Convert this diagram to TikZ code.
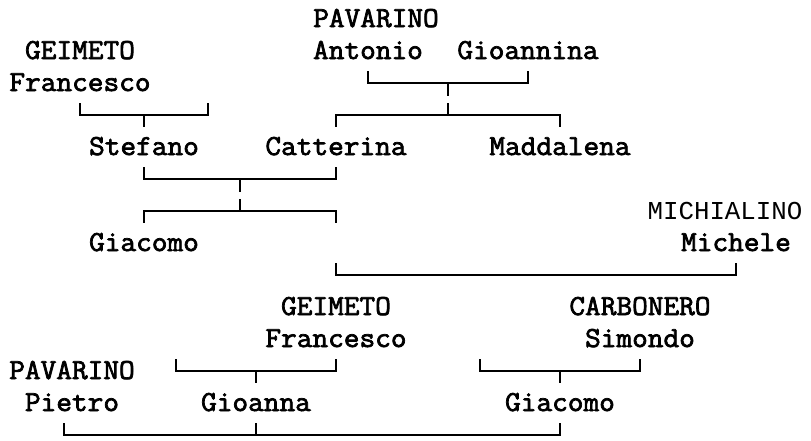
\documentclass[tikz,border=0pt]{standalone}
\usepackage{fontspec}
\usepackage{tikz}
\usetikzlibrary{calc}
\usetikzlibrary{positioning}

\newfontfamily\treefont[FakeStretch=1.05,FakeBold=2.5]{Latin Modern Mono}
\newfontfamily\sidefont{Liberation Mono}

\begin{document}
\begin{tikzpicture}[x=1pt, y=-1pt,
    person/.style={inner sep=0pt, minimum height=40pt, text height=16pt,
      text depth=0pt, font=\treefont\fontsize{29}{29}\selectfont},
    side/.style={inner sep=0pt, font=\sidefont\fontsize{25.8}{25.8}\selectfont},
    line/.style={line width=1.6pt}]

  \useasboundingbox (0,0) rectangle (811,440);

%%%%%%%%%%%% top rows
  \node[person] (pavarino1) at (376, 19) {PAVARINO};
  \node[person] (antonio) at (368, 51) {Antonio};
  \node[person] (gioannina) at (528, 51) {Gioannina};
  \node[person] (geimeto1) at (80, 51) {GEIMETO};
  \node[person] (francesco1) at (80, 83) {Francesco};

  \node[person] (stefano) at (144, 147) {Stefano};
  \node[person] (catterina) at (336, 147) {Catterina};
  \node[person] (maddalena) at (560, 147) {Maddalena};

  \node[side] (michialino) at (725, 211) {MICHIALINO};
  \node[person] (giacomo1) at (144, 243) {Giacomo};
  \node[person] (michele) at (736, 243) {Michele};

  \coordinate (free1) at (208, 103);
  \coordinate (free2) at (336, 223);
  \coordinate (free3) at (336, 263);

  % Francesco -> Stefano
  \draw[line] (francesco1.south) -- ++(0,12) -| (free1);
  \draw[line] (stefano.north) -- ++(0,-12);

  % Antonio + Gioannina -> Catterina, Maddalena
  \draw[line] (antonio.south) -- ++(0,12) -| (gioannina.south);
  \draw[line] ($(antonio.south)!.5!(gioannina.south)$) ++(0,12) -- ++(0,13);
  \draw[line] (catterina.north) -- ++(0,-12) -| (maddalena.north);
  \draw[line] ($(catterina.north)!.5!(maddalena.north)$) ++(0,-12) -- ++(0,-12);

  % Stefano + Catterina -> Giacomo
  \draw[line] (stefano.south) -- ++(0,12) -| (catterina.south);
  \draw[line] ($(stefano.south)!.5!(catterina.south)$) ++(0,12) -- ++(0,13);
  \draw[line] (giacomo1.north) -- ++(0,-12) -| (free2);
  \draw[line] ($(giacomo1.north)!.5!(free2)$) ++(0,-12) -- ++(0,-12);

  % Michele
  \draw[line] (free3) -- ++(0,12) -| (michele.south);

%%%%%%%%%%%% bottom rows
  \node[person] (geimeto2) at (336, 307) {GEIMETO};
  \node[person] (francesco2) at (336, 339) {Francesco};
  \node[person] (carbonero) at (640, 307) {CARBONERO};
  \node[person] (simondo) at (640, 339) {Simondo};

  \node[person] (pavarino2) at (72, 371) {PAVARINO};
  \node[person] (pietro) at (72, 403) {Pietro};
  \node[person] (gioanna) at (256, 403) {Gioanna};
  \node[person] (giacomo2) at (560, 403) {Giacomo};

  \coordinate (free4) at (176, 359);
  \coordinate (free5) at (480, 359);

  \draw[line] (free4) -- ++(0,12) -| (francesco2.south);
  \draw[line] (gioanna.north) -- ++(0,-12);
  \draw[line] (free5) -- ++(0,12) -| (simondo.south);
  \draw[line] (giacomo2.north) -- ++(0,-12);

  % Pietro + Gioanna + Giacomo
  \draw[line] ([xshift=-8pt]pietro.south) -- ++(0,12) -| (giacomo2.south);
  \draw[line] (gioanna.south) -- ++(0,12);
\end{tikzpicture}
\end{document}
